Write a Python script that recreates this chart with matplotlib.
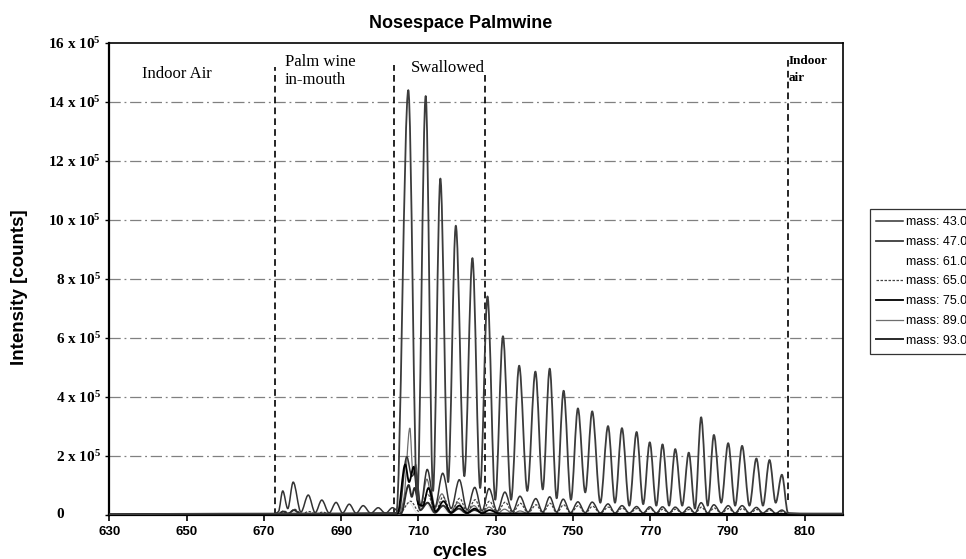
import numpy as np
import matplotlib
matplotlib.use('Agg')
import matplotlib.pyplot as plt
from matplotlib.path import Path
from matplotlib.patches import PathPatch
from matplotlib.lines import Line2D
import matplotlib.transforms as mtransforms

plt.rcParams['mathtext.default'] = 'regular'

# intensity in units of 1e5 counts, (cycle, value)
mass47 = [(630, 0.0), (645, 0.02), (704.3, 0.05),
          (707.4, 14.4), (709.7, 0.5), (711.9, 14.2), (713.8, 0.8),
          (715.7, 11.4), (717.7, 1.1), (719.7, 9.8), (721.9, 1.3),
          (724.0, 8.7), (726.0, 0.9), (727.9, 7.4), (729.9, 0.5),
          (731.9, 6.05), (734.0, 0.5), (736.1, 5.05), (738.2, 0.8),
          (740.3, 4.85), (742.2, 0.85), (744.0, 4.95), (745.8, 0.55),
          (747.6, 4.2), (749.5, 0.5), (751.3, 3.6), (753.2, 0.75),
          (755.0, 3.5), (757.1, 0.4), (759.1, 3.0), (760.9, 0.4),
          (762.7, 2.93), (764.6, 0.3), (766.5, 2.8), (768.2, 0.35),
          (769.9, 2.45), (771.6, 0.3), (773.2, 2.38), (774.9, 0.3),
          (776.5, 2.22), (778.3, 0.3), (780.0, 2.1), (781.6, 0.2),
          (783.2, 3.3), (784.9, 0.3), (786.5, 2.7), (788.4, 0.4),
          (790.2, 2.42), (792.0, 0.3), (793.8, 2.33), (795.7, 0.3),
          (797.5, 1.9), (799.2, 0.3), (800.9, 1.85), (802.5, 0.4),
          (804.1, 1.35), (805.7, 0.05), (812, 0.03), (820, 0.03)]

mass43 = [(630, 0.0), (672.5, 0.02), (673.8, 0.1), (674.9, 0.8), (676.2, 0.2),
          (677.6, 1.1), (679.6, 0.08), (681.5, 0.66), (683.3, 0.06), (685.0, 0.49),
          (686.9, 0.05), (688.7, 0.41), (690.4, 0.05), (692.1, 0.35), (693.9, 0.04),
          (695.7, 0.3), (697.7, 0.04), (699.6, 0.23), (701.5, 0.04), (703.3, 0.23),
          (705.0, 0.1), (707.0, 1.96), (708.3, 1.3), (709.3, 1.45), (710.6, 0.3),
          (712.3, 1.53), (714.3, 0.25), (716.3, 1.4), (718.5, 0.2), (720.6, 1.18),
          (722.6, 0.15), (724.6, 0.92), (726.5, 0.12), (728.3, 0.88), (730.4, 0.1),
          (732.4, 0.76), (734.4, 0.1), (736.3, 0.62), (738.4, 0.08), (740.4, 0.54),
          (742.2, 0.08), (744.0, 0.6), (745.8, 0.08), (747.5, 0.52), (749.4, 0.06),
          (751.3, 0.43), (753.2, 0.06), (755.0, 0.42), (757.1, 0.05), (759.1, 0.36),
          (760.9, 0.05), (762.7, 0.3), (764.6, 0.05), (766.5, 0.27), (768.2, 0.05),
          (769.9, 0.26), (771.6, 0.05), (773.2, 0.26), (774.9, 0.05), (776.5, 0.25),
          (778.3, 0.05), (780.0, 0.25), (781.6, 0.05), (783.2, 0.4), (784.9, 0.05),
          (786.5, 0.33), (788.4, 0.05), (790.2, 0.3), (792.0, 0.05), (793.8, 0.3),
          (795.7, 0.05), (797.5, 0.24), (799.2, 0.05), (800.9, 0.2), (802.5, 0.04),
          (804.1, 0.15), (805.7, 0.02), (820, 0.02)]

mass61 = [(630, 0.0), (705, 0.01), (707.6, 0.4), (709.8, 0.05), (712.0, 0.35),
          (714.0, 0.05), (716.0, 0.25), (718.0, 0.04), (720.0, 0.2), (722.0, 0.03),
          (820, 0.01)]

mass65 = [(630, 0.0), (673.5, 0.02), (675.2, 0.12), (676.5, 0.04), (677.9, 0.18),
          (679.8, 0.03), (681.7, 0.1), (683.5, 0.02), (685.2, 0.08), (687.0, 0.02),
          (705.0, 0.03), (708.0, 0.45), (710.2, 0.1), (712.4, 0.7), (714.4, 0.1),
          (716.4, 0.6), (718.5, 0.08), (720.7, 0.55), (722.6, 0.08), (724.7, 0.5),
          (726.5, 0.07), (728.4, 0.45), (730.4, 0.06), (732.5, 0.42), (734.4, 0.06),
          (736.4, 0.38), (738.4, 0.05), (740.5, 0.33), (742.2, 0.05), (744.1, 0.38),
          (745.8, 0.05), (747.6, 0.33), (749.4, 0.04), (751.4, 0.3), (753.2, 0.04),
          (755.1, 0.28), (757.1, 0.04), (759.2, 0.25), (760.9, 0.04), (762.8, 0.22),
          (764.6, 0.04), (766.6, 0.2), (768.2, 0.04), (770.0, 0.2), (771.6, 0.04),
          (773.3, 0.18), (774.9, 0.04), (776.6, 0.18), (778.3, 0.04), (780.1, 0.17),
          (781.6, 0.04), (783.3, 0.25), (784.9, 0.04), (786.6, 0.22), (788.4, 0.04),
          (790.3, 0.2), (792.0, 0.04), (793.9, 0.2), (795.7, 0.03), (797.6, 0.17),
          (799.2, 0.03), (801.0, 0.15), (802.5, 0.03), (804.2, 0.1), (805.8, 0.02),
          (820, 0.02)]

mass75 = [(630, 0.0), (640, 0.01), (704.6, 0.03), (706.6, 1.7), (707.6, 1.1),
          (708.8, 1.62), (710.0, 0.35), (711.2, 0.3), (712.6, 0.9), (714.5, 0.1),
          (716.5, 0.45), (718.5, 0.06), (720.6, 0.3), (722.6, 0.05), (724.6, 0.2),
          (726.5, 0.04), (728.4, 0.15), (731.0, 0.03), (820, 0.02)]

mass89 = [(630, 0.0), (705.0, 0.02), (706.3, 0.6), (707.8, 2.93), (708.6, 1.4),
          (709.3, 1.7), (710.6, 0.25), (712.2, 1.2), (714.0, 0.15), (716.1, 0.7),
          (718.2, 0.08), (720.3, 0.4), (722.3, 0.06), (724.4, 0.3), (726.4, 0.05),
          (728.3, 0.25), (730.5, 0.04), (732.3, 0.18), (734.5, 0.03), (736.3, 0.12),
          (738.5, 0.03), (820, 0.02)]

mass93 = [(630, 0.0), (673.8, 0.02), (675.0, 0.1), (676.3, 0.03), (677.8, 0.15),
          (679.5, 0.02), (705.5, 0.03), (707.5, 1.0), (708.3, 0.6), (709.0, 0.9),
          (710.5, 0.15), (712.4, 0.4), (714.3, 0.06), (716.4, 0.3), (718.4, 0.05),
          (720.5, 0.2), (722.5, 0.04), (724.5, 0.15), (727.0, 0.03), (820, 0.02)]

series_labels = ['mass: 43.0', 'mass: 47.0', 'mass: 61.0', 'mass: 65.0',
                 'mass: 75.0', 'mass: 89.0', 'mass: 93.0']
series_data = [mass43, mass47, mass61, mass65, mass75, mass89, mass93]

# phase boundaries (cycle, top of dashed line, bottom of dashed line)
phase_lines = [(672.8, 15.2, 0.0), (703.6, 15.25, 0.0), (727.3, 14.9, 0.0), (805.6, 15.5, 0.5)]

yticks = [0, 2, 4, 6, 8, 10, 12, 14, 16]
ytick_labels = ['0'] + ['%d x 10$^5$' % v for v in yticks[1:]]
xticks = list(range(630, 811, 20))

styles = [dict(color='#333333', lw=1.1, ls='-'),
          dict(color='#3c3c3c', lw=1.3, ls='-'),
          dict(color='#e4e4e4', lw=0.8, ls='-'),
          dict(color='#444444', lw=0.9, ls=(0, (2, 1.2))),
          dict(color='black', lw=1.3, ls='-'),
          dict(color='#6e6e6e', lw=0.9, ls='-'),
          dict(color='#2a2a2a', lw=1.4, ls='-')]


def smooth_path(pts):
    # monotone cubic (Excel-like smoothed line) drawn as bezier segments
    x = np.array([p[0] for p in pts], float)
    y = np.array([p[1] for p in pts], float)
    h = np.diff(x)
    d = np.diff(y) / h
    m = np.zeros_like(y)
    for k in range(1, len(x) - 1):
        if d[k - 1] * d[k] > 0:
            w1 = 2 * h[k] + h[k - 1]
            w2 = h[k] + 2 * h[k - 1]
            m[k] = (w1 + w2) / (w1 / d[k - 1] + w2 / d[k])
    verts = [(x[0], y[0])]
    codes = [Path.MOVETO]
    for k in range(len(x) - 1):
        verts += [(x[k] + h[k] / 3, y[k] + m[k] * h[k] / 3),
                  (x[k + 1] - h[k] / 3, y[k + 1] - m[k + 1] * h[k] / 3),
                  (x[k + 1], y[k + 1])]
        codes += [Path.CURVE4] * 3
    return Path(verts, codes)


W, H = 966, 559
fig = plt.figure(figsize=(W / 100, H / 100), dpi=100)
ax = fig.add_axes([109.3 / W, 1 - 514.5 / H, (843.3 - 109.3) / W, (514.5 - 43) / H])
ax.set_xlim(630, 820)
ax.set_ylim(0, 16)

for v in yticks[1:-1]:
    ax.axhline(v, color='#808080', lw=0.9, ls=(0, (9, 3, 1.5, 3)), zorder=1)

for xv, top, bot in phase_lines:
    ax.plot([xv, xv], [bot, top], color='black', lw=1.2, ls=(0, (4, 2.5)), zorder=2)

order = [2, 5, 3, 0, 6, 4, 1]
for i in order:
    st = styles[i]
    patch = PathPatch(smooth_path(series_data[i]), fill=False, edgecolor=st['color'],
                      lw=st['lw'], ls=st['ls'], zorder=3, joinstyle='round')
    ax.add_patch(patch)

serif = 'Liberation Serif'
sans = 'Liberation Sans'

ax.text(638.5, 14.96, 'Indoor Air', family=serif, fontsize=12, va='center', ha='left')
ax.text(675.4, 15.05, 'Palm wine\nin-mouth', family=serif, fontsize=12, va='center',
        ha='left', linespacing=1.22)
ax.text(708.1, 15.15, 'Swallowed', family=serif, fontsize=12, va='center', ha='left')
ax.text(805.9, 15.1, 'Indoor\nair', family=serif, fontsize=9.5, fontweight='bold',
        va='center', ha='left', linespacing=1.55)

for s in ['left', 'bottom']:
    ax.spines[s].set_linewidth(1.6)
for s in ['top', 'right']:
    ax.spines[s].set_linewidth(1.2)

ax.set_xticks(xticks)
ax.set_xticklabels([str(v) for v in xticks], family=sans, fontsize=9.5, fontweight='bold')
ax.set_yticks(yticks)
ax.set_yticklabels([''] + ytick_labels[1:], family=serif, fontsize=11, fontweight='bold')
ax.tick_params(axis='x', direction='out', length=4, width=1.2, pad=4.5)
ax.tick_params(axis='y', direction='out', length=3, width=1.0, pad=3)
trans = mtransforms.blended_transform_factory(ax.transAxes, ax.transData)
ax.text(-0.0672, yticks[0], ytick_labels[0], transform=trans, family=serif, fontsize=11,
        fontweight='bold', ha='center', va='center')

fig.text(461 / W, 1 - 23 / H, 'Nosespace Palmwine', family=sans, fontsize=13,
         fontweight='bold', ha='center', va='center')
fig.text(460 / W, 1 - 551 / H, 'cycles', family=sans, fontsize=13, fontweight='bold',
         ha='center', va='center')
fig.text(20 / W, 1 - 287 / H, 'Intensity [counts]', family=sans, fontsize=13.5,
         fontweight='bold', ha='center', va='center', rotation=90)

handles = [Line2D([], [], color=st['color'] if i != 2 else 'white', lw=st['lw'], ls=st['ls'])
           for i, st in enumerate(styles)]
leg = fig.legend(handles, series_labels, loc='upper left',
                 bbox_to_anchor=(863.3 / W, 1 - 203 / H), frameon=True, fancybox=False,
                 edgecolor='#333333', framealpha=1, prop={'family': sans, 'size': 9},
                 handlelength=2.1, handletextpad=0.3, labelspacing=0.62, borderpad=0.55)
leg.get_frame().set_linewidth(0.9)

fig.savefig('out.png', dpi=100)
